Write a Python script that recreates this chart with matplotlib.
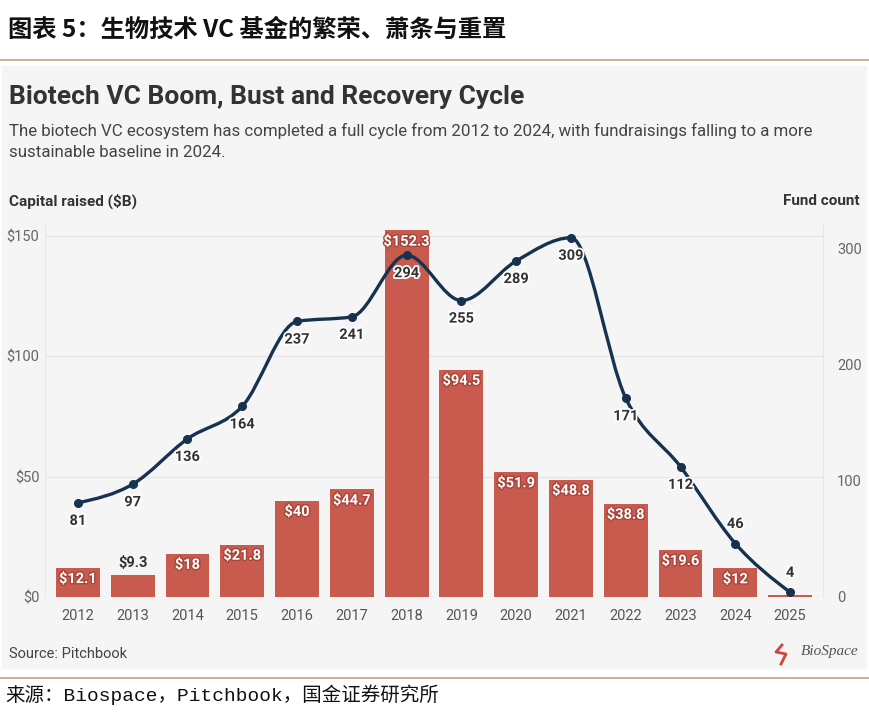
import numpy as np
import matplotlib
matplotlib.use('Agg')
import matplotlib.pyplot as plt
import matplotlib.patheffects as pe
from matplotlib.path import Path
from matplotlib.patches import PathPatch, Rectangle

# ---- data ----
years = ['2012', '2013', '2014', '2015', '2016', '2017', '2018',
         '2019', '2020', '2021', '2022', '2023', '2024', '2025']
capital = [12.1, 9.3, 18, 21.8, 40, 44.7, 152.3, 94.5, 51.9, 48.8, 38.8, 19.6, 12, 1.0]
cap_labels = ['$12.1', '$9.3', '$18', '$21.8', '$40', '$44.7', '$152.3',
              '$94.5', '$51.9', '$48.8', '$38.8', '$19.6', '$12', '']
funds = [81, 97, 136, 164, 237, 241, 294, 255, 289, 309, 171, 112, 46, 4]

left_ticks = [0, 50, 100, 150]
left_ticklabels = ['$0', '$50', '$100', '$150']
right_ticks = [0, 100, 200, 300]

BAR = '#c85b4d'
LINE = '#17324f'
BG = '#f5f5f5'
TAN = '#b9a77f'
FONT = ['Roboto', 'DejaVu Sans']
CJK = ['Noto Sans CJK SC', 'DejaVu Sans']

plt.rcParams['font.family'] = FONT

fig = plt.figure(figsize=(8.7, 7.13), dpi=100)
W, H = 870, 713

def fx(px):
    return px / W

def fy(py):
    return 1 - py / H

# page frame
fig.text(fx(8), fy(30), '图表 5：生物技术 VC 基金的繁荣、萧条与重置', family=CJK,
         fontsize=17.5, fontweight='bold', style='italic', va='center', ha='left', color='#111')
fig.add_artist(plt.Line2D([0, 1], [fy(60), fy(60)], color=TAN, lw=1.2))
fig.add_artist(Rectangle((fx(2), fy(668)), fx(864), (668 - 66) / H, color=BG, zorder=-5))
fig.add_artist(plt.Line2D([0, 1], [fy(678), fy(678)], color=TAN, lw=1.2))
fig.text(fx(5), fy(695), '来源：Biospace，Pitchbook，国金证券研究所',
         family=['Liberation Mono', 'Noto Sans CJK SC'],
         fontsize=14, va='center', ha='left', color='#111')

# chart header
fig.text(fx(9), fy(97), 'Biotech VC Boom, Bust and Recovery Cycle', fontsize=19,
         fontweight='bold', color='#333333', va='center')
fig.text(fx(9), fy(141), 'The biotech VC ecosystem has completed a full cycle from 2012 to 2024, with fundraisings falling to a more\nsustainable baseline in 2024.',
         fontsize=12.2, color='#444444', va='center', linespacing=1.5)
fig.text(fx(9), fy(201), 'Capital raised ($B)', fontsize=11, fontweight='bold', color='#333', va='center')
fig.text(fx(860), fy(201), 'Fund count', fontsize=11, fontweight='bold', color='#333', va='center', ha='right')
fig.text(fx(9), fy(654), 'Source: Pitchbook', fontsize=10.5, color='#444', va='center')

# BioSpace mark
fig.text(fx(858), fy(652), 'BioSpace', family=['Liberation Serif', 'DejaVu Serif'], style='italic',
         fontsize=11, color='#555', ha='right', va='center')
fig.add_artist(plt.Line2D([fx(782), fx(776), fx(786), fx(781)],
                          [fy(645), fy(652), fy(654), fy(664)], color='#d0453a', lw=2))

# axes
ax = fig.add_axes([fx(45), fy(597), fx(823 - 45), (597 - 224) / H])
ax.set_facecolor('none')
x = np.arange(len(years))
bars = ax.bar(x, capital, width=0.8, color=BAR, zorder=2)
ax.set_xlim(-0.6, len(years) - 0.4)
ax.set_ylim(0, 155)
ax.set_yticks(left_ticks)
ax.set_yticklabels(left_ticklabels)
ax.set_xticks(x)
ax.set_xticklabels(years)
ax.grid(axis='y', color='#e6e6e6', lw=1, zorder=0)
ax.tick_params(length=0, colors='#666', labelsize=10.5, pad=4)
ax.tick_params(axis='x', colors='#555', pad=9)
for s in ['top', 'bottom']:
    ax.spines[s].set_visible(False)
for s in ['left', 'right']:
    ax.spines[s].set_color('#e8e8e8')

halo_red = [pe.withStroke(linewidth=2, foreground='#a8443a')]
for xi, v, lab in zip(x, capital, cap_labels):
    if not lab:
        continue
    if v < 12:
        ax.annotate(lab, (xi, v), xytext=(0, 3), textcoords='offset points', ha='center',
                    va='bottom', fontsize=10.5, fontweight='bold', color='#333', zorder=5)
    else:
        ax.annotate(lab, (xi, v), xytext=(0, -3), textcoords='offset points', ha='center',
                    va='top', fontsize=10.5, fontweight='bold', color='white', zorder=5,
                    path_effects=halo_red)

# fund count line (monotone cubic through the points, drawn as bezier path)
ax2 = ax.twinx()
ax2.set_ylim(0, 155 * 2.407 / 1.163)
ax2.set_yticks(right_ticks)
ax2.tick_params(length=0, colors='#666', labelsize=10.5, pad=10)
for s in ax2.spines.values():
    s.set_visible(False)

y = np.array(funds, dtype=float)
n = len(y)
sl = np.diff(y)
t = np.zeros(n)
for i in range(1, n - 1):
    s0, s1 = sl[i - 1], sl[i]
    p = (s0 + s1) / 2
    t[i] = (np.sign(s0) + np.sign(s1)) * min(abs(s0), abs(s1), 0.5 * abs(p))
t[0] = (3 * sl[0] - t[1]) / 2
t[-1] = (3 * sl[-1] - t[-2]) / 2
verts = [(x[0], y[0])]
codes = [Path.MOVETO]
for i in range(n - 1):
    verts += [(x[i] + 1 / 3, y[i] + t[i] / 3), (x[i + 1] - 1 / 3, y[i + 1] - t[i + 1] / 3),
              (x[i + 1], y[i + 1])]
    codes += [Path.CURVE4] * 3
ax2.add_patch(PathPatch(Path(verts, codes), fill=False, edgecolor=LINE, lw=2.4,
                        capstyle='round', zorder=3))
ax2.plot(x, funds, 'o', color=LINE, ms=5.5, zorder=4)

halo_w = [pe.withStroke(linewidth=2.5, foreground='white')]
offsets = {46: 9, 4: 9}
for xi, v in zip(x, funds):
    dy = offsets.get(v, -8)
    ax2.annotate(str(v), (xi, v), xytext=(0, dy), textcoords='offset points', ha='center',
                 va='bottom' if dy > 0 else 'top', fontsize=10.5, fontweight='bold',
                 color='#333', zorder=6, path_effects=halo_w)

fig.savefig('out.png', dpi=100, facecolor='white')
